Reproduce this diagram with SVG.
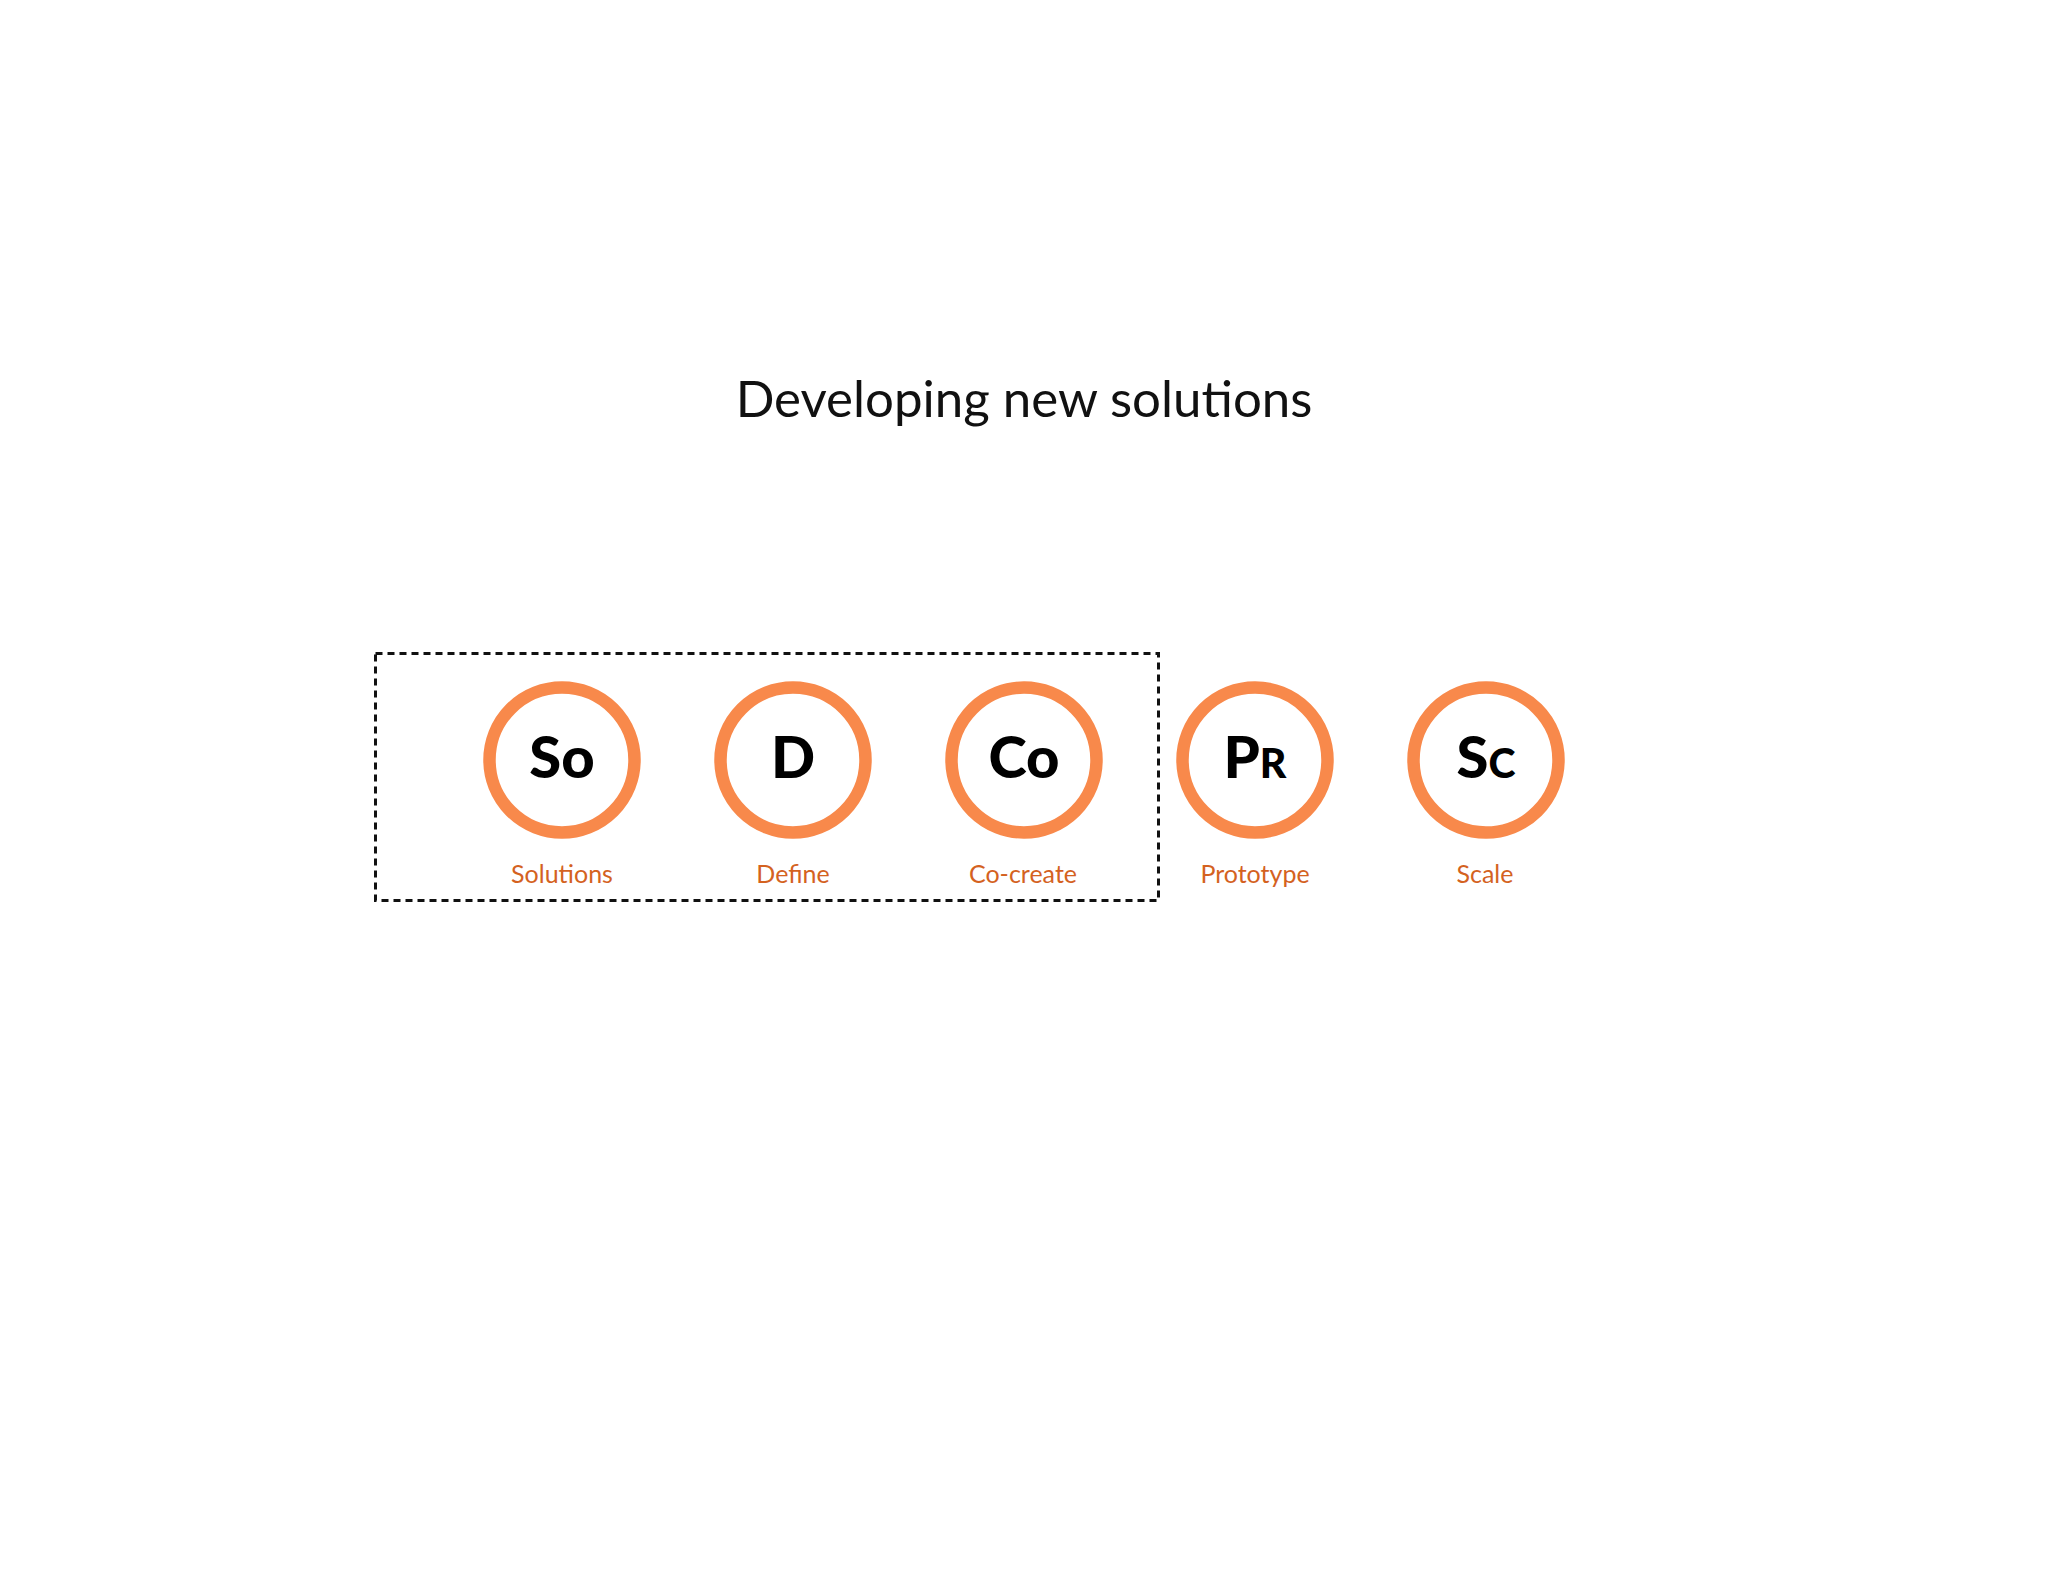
<svg xmlns="http://www.w3.org/2000/svg" width="2048" height="1582" viewBox="0 0 2048 1582">
<style>
.ring{fill:#fff;stroke:#F8894B;stroke-width:12.5}
.sym{font-family:Lato,"Noto Sans",sans-serif;font-weight:900;font-size:58px;fill:#000;text-anchor:middle}
.sm{font-size:41px}
.lbl{font-family:Lato,"Noto Sans",sans-serif;font-size:25px;fill:#D4621F;text-anchor:middle}
.title{font-family:Lato,"Noto Sans",sans-serif;font-weight:400;font-size:51px;fill:#111;text-anchor:middle}
</style>
<rect width="2048" height="1582" fill="#fff"/>
<text class="title" x="1024" y="417">Developing new solutions</text>
<g id="connectors">
<rect x="375.5" y="653.5" width="783" height="247" fill="none" stroke="#111" stroke-width="3" stroke-dasharray="7 5"/>
</g>
<g id="node-solutions">
<circle class="ring" cx="562" cy="760" r="72.5"/>
<text class="sym" x="562" y="778">So</text>
<text class="lbl" x="562" y="883">Solutions</text>
</g>
<g id="node-define">
<circle class="ring" cx="793" cy="760" r="72.5"/>
<text class="sym" x="793" y="778">D</text>
<text class="lbl" x="793" y="883">Define</text>
</g>
<g id="node-cocreate">
<circle class="ring" cx="1024" cy="760" r="72.5"/>
<text class="sym" x="1024" y="778">Co</text>
<text class="lbl" x="1023" y="883">Co-create</text>
</g>
<g id="node-prototype">
<circle class="ring" cx="1255" cy="760" r="72.5"/>
<text class="sym" x="1255" y="778">P<tspan class="sm">R</tspan></text>
<text class="lbl" x="1255" y="883">Prototype</text>
</g>
<g id="node-scale">
<circle class="ring" cx="1486" cy="760" r="72.5"/>
<text class="sym" x="1486" y="778">S<tspan class="sm">C</tspan></text>
<text class="lbl" x="1485" y="883">Scale</text>
</g>
</svg>
